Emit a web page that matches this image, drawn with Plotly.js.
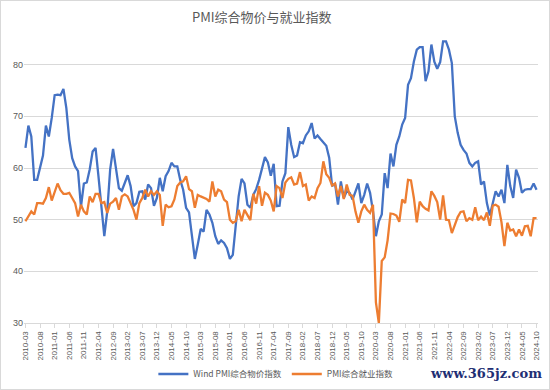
<!DOCTYPE html>
<html>
<head>
<meta charset="utf-8">
<script src="https://cdn.plot.ly/plotly-3.0.1.min.js"></script>
<style>
html,body{margin:0;padding:0;background:#fff;}
#wrap{position:relative;width:550px;height:390px;}
#chart{width:550px;height:390px;}
#frame{position:absolute;left:0;top:0;width:550px;height:390px;box-sizing:border-box;border:1px solid #d9d9d9;pointer-events:none;}
</style>
</head>
<body>
<div id="wrap"><div id="chart"></div><div id="frame"></div></div>
<script>
// Monthly categories 2010-03 .. 2024-10
const startYear = 2010, startMonth = 3, monthCount = 176;
const months = [];
for (let k = 0; k < monthCount; k++) {
  const m = startMonth - 1 + k;
  const y = startYear + Math.floor(m / 12);
  const mm = (m % 12) + 1;
  months.push(y + '-' + (mm < 10 ? '0' + mm : mm));
}
const tickLabels = months.filter((d, k) => k % 5 === 0);

const priceIndex = [
63.9,68.2,66.1,57.7,57.7,60.0,62.4,68.2,66.1,69.7,
74.1,74.2,74.1,75.3,71.6,65.5,61.9,60.3,59.4,52.5,
57.0,57.2,59.7,63.2,63.9,58.4,51.9,46.8,51.6,59.7,
63.7,59.7,56.1,55.6,57.0,58.6,56.5,52.6,53.2,55.4,
55.5,53.9,56.8,56.1,52.7,54.2,58.1,55.5,58.4,59.4,
61.0,60.3,60.3,57.7,55.8,52.3,51.4,47.1,42.4,45.2,
48.2,47.7,51.9,51.0,49.4,46.8,45.3,46.0,45.5,44.5,
42.4,43.2,48.7,54.5,57.9,57.0,52.9,52.3,54.8,55.9,
57.7,59.7,62.1,61.1,58.5,60.8,52.6,52.7,57.4,59.0,
67.9,64.5,62.1,62.4,65.0,64.8,66.3,67.1,68.7,65.7,
66.3,65.6,65.0,64.3,62.0,56.5,57.0,52.9,57.4,54.2,
55.5,55.2,53.9,55.5,57.0,53.2,54.8,57.0,55.2,51.6,
46.8,49.7,51.0,59.0,56.1,62.8,60.3,64.5,66.1,68.4,
69.7,76.1,77.4,80.6,82.9,83.4,83.4,76.8,78.7,83.9,
80.6,79.2,80.5,84.5,84.5,82.9,80.3,70.0,66.8,64.5,
63.5,62.8,61.0,60.3,61.0,61.3,56.8,57.4,53.2,50.8,
53.0,55.5,54.5,55.8,53.2,60.6,56.5,54.2,59.7,58.1,
55.2,55.8,55.9,55.9,57.0,55.8
];

const employmentIndex = [
49.7,50.7,51.6,51.0,53.2,53.2,53.1,54.2,56.3,53.7,
55.5,57.0,55.7,55.0,55.0,55.2,54.2,53.2,50.6,52.9,
51.6,51.0,54.5,53.4,55.0,55.0,53.2,53.4,51.3,53.1,
53.5,54.2,51.9,54.5,54.9,54.5,53.2,51.9,50.0,53.2,
54.2,55.8,54.5,55.5,54.8,55.5,54.8,48.8,52.9,52.4,
52.6,53.9,56.5,57.2,57.4,58.4,55.9,55.5,52.3,54.8,
54.5,54.2,54.0,53.5,57.4,54.5,55.8,55.5,53.9,53.4,
50.0,49.4,49.7,51.9,49.7,51.9,51.0,49.9,55.0,53.1,
56.5,52.7,55.2,54.8,53.7,51.6,56.5,56.1,54.2,57.2,
57.9,58.2,56.8,57.0,59.2,56.5,56.8,53.7,54.5,54.2,
56.1,57.1,61.3,58.8,58.1,56.6,57.0,54.5,56.5,54.0,
56.8,54.8,54.6,51.6,49.4,51.6,52.9,51.9,51.3,52.9,
34.0,30.0,42.0,42.7,46.0,51.2,51.1,50.8,49.6,53.9,
53.2,57.7,57.6,54.2,49.5,53.5,52.6,52.1,51.8,55.5,
54.6,53.4,50.0,54.7,50.0,49.9,47.4,49.0,50.5,51.5,
51.6,49.7,50.3,50.0,52.4,49.9,50.6,49.9,51.4,48.8,
52.7,52.9,52.5,49.5,44.9,49.4,47.9,48.1,46.8,48.1,
46.9,48.7,48.8,46.8,50.3,50.3
];

const seriesNames = ['Wind PMI综合物价指数', 'PMI综合就业指数'];
const yTicks = [30, 40, 50, 60, 70, 80];

const font = 'Calibri, "Liberation Sans", "Noto Sans CJK SC", sans-serif';

const traces = [
  {x: months, y: priceIndex, type: 'scatter', mode: 'lines', name: seriesNames[0],
   line: {color: '#4472C4', width: 2.3}},
  {x: months, y: employmentIndex, type: 'scatter', mode: 'lines', name: seriesNames[1],
   line: {color: '#ED7D31', width: 2.3}}
];

const layout = {
  width: 550, height: 390,
  margin: {l: 24, r: 12, t: 13.4, b: 66.6, autoexpand: false},
  paper_bgcolor: '#ffffff', plot_bgcolor: '#ffffff',
  font: {family: font, color: '#595959', size: 9},
  title: {text: 'PMI综合物价与就业指数', x: 0.476, xanchor: 'center', y: 0.955, yanchor: 'middle',
          font: {family: '"Noto Sans CJK SC", sans-serif', size: 13, color: '#595959'}},
  showlegend: true,
  legend: {orientation: 'h', x: 0.49, xanchor: 'center', yref: 'container', y: 0.041, yanchor: 'middle',
           font: {family: '"Noto Sans CJK SC", sans-serif', size: 8.5, color: '#595959'},
           itemwidth: 30, tracegroupgap: 0},
  xaxis: {type: 'category', tickmode: 'array', tickvals: tickLabels, ticktext: tickLabels,
          tickangle: -90, tickfont: {family: '"Liberation Sans", sans-serif', size: 8, color: '#595959'},
          showgrid: false, showline: true, linecolor: '#d9d9d9', linewidth: 1,
          ticks: 'outside', ticklen: 4, tickcolor: '#d9d9d9', range: [-0.5, monthCount - 0.5],
          zeroline: false, fixedrange: true, automargin: false},
  yaxis: {range: [30, 90], tickmode: 'array', tickvals: yTicks,
          tickfont: {family: '"Liberation Sans", sans-serif', size: 9, color: '#595959'},
          showgrid: true, gridcolor: '#d9d9d9', gridwidth: 1, showline: false,
          zeroline: false, ticks: '', ticklen: 0, fixedrange: true, automargin: false},
  annotations: [
    {text: '<b>www.365jz.com</b>', xref: 'paper', yref: 'paper', x: 1.012, xanchor: 'right',
     y: -0.163, yanchor: 'middle', showarrow: false,
     font: {family: '"DejaVu Serif", serif', size: 13, color: '#1f2f74'}}
  ]
};

Plotly.newPlot('chart', traces, layout, {staticPlot: true, displayModeBar: false});
</script>
</body>
</html>
